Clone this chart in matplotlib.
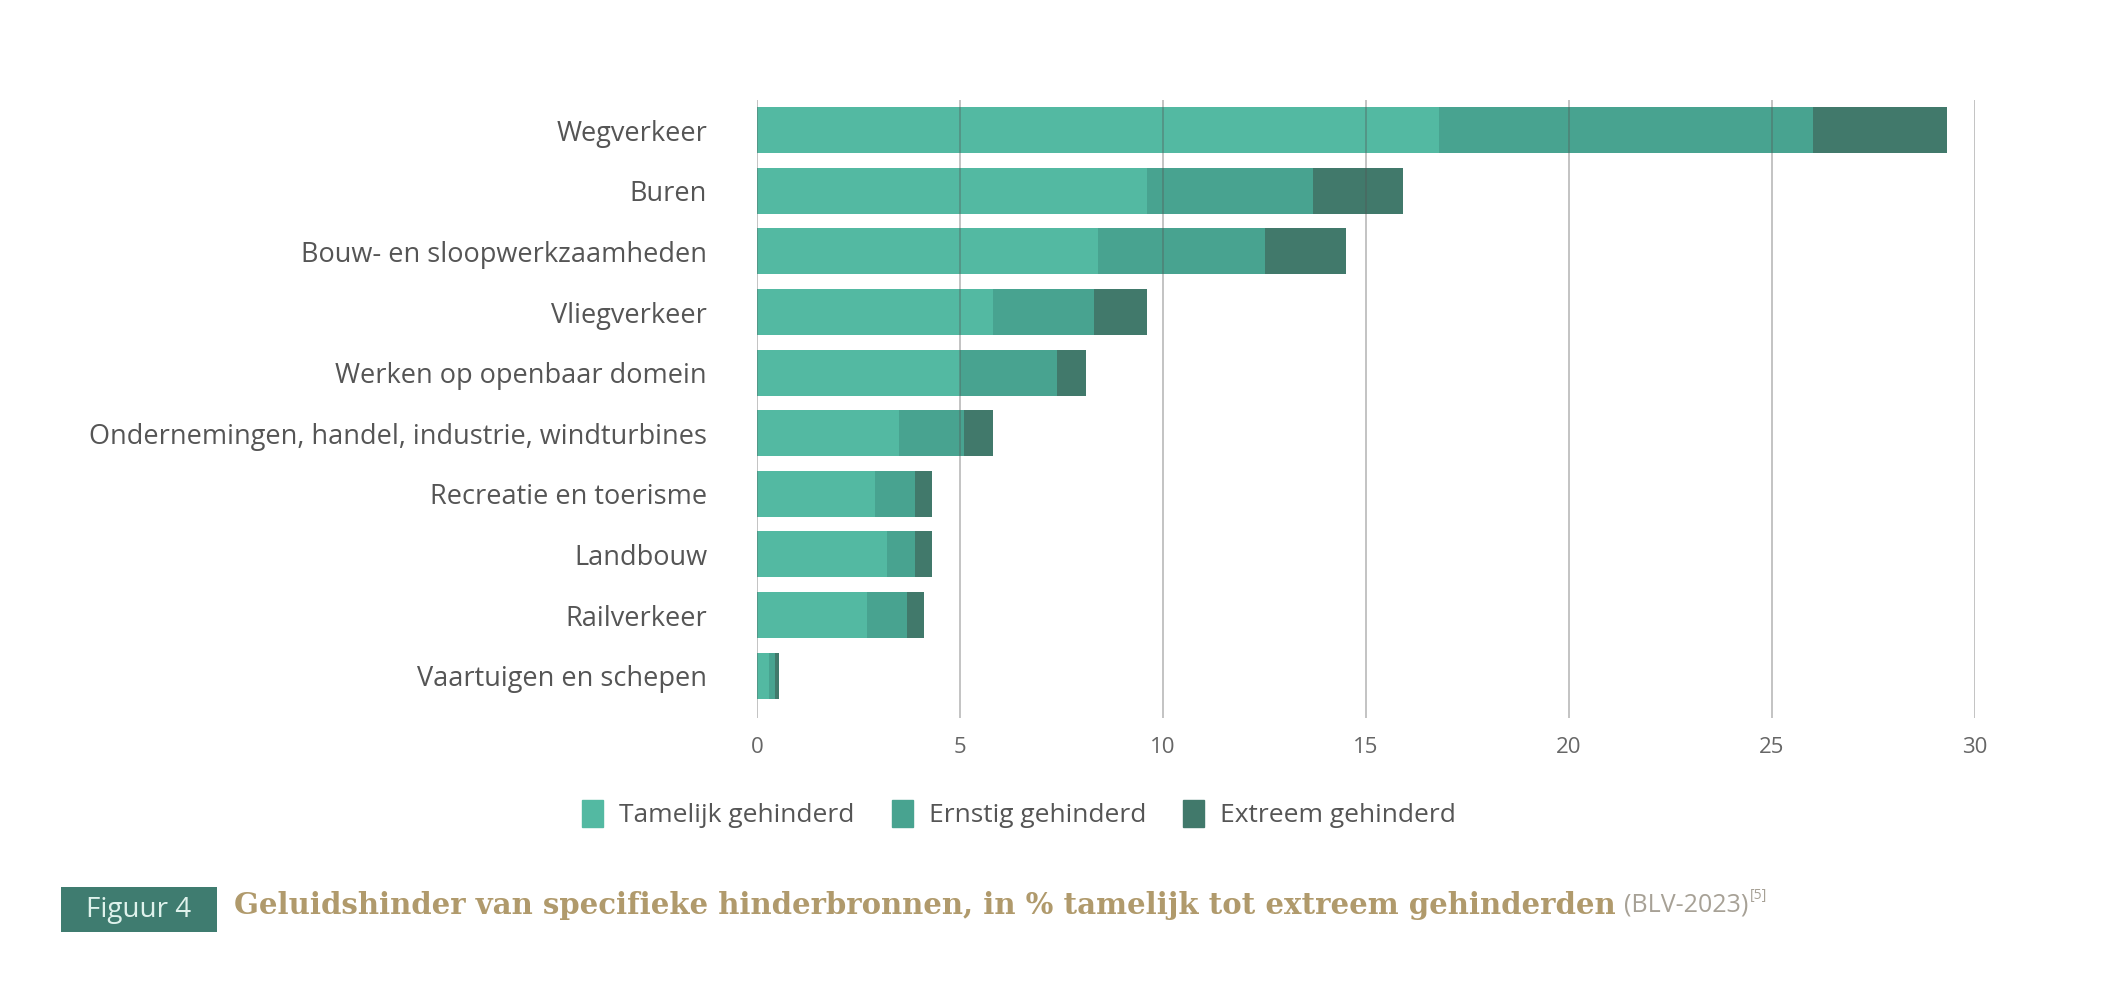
import matplotlib.pyplot as plt
from matplotlib.patches import Patch, Rectangle

categories = ["Wegverkeer", "Buren", "Bouw- en sloopwerkzaamheden", "Vliegverkeer",
              "Werken op openbaar domein", "Ondernemingen, handel, industrie, windturbines",
              "Recreatie en toerisme", "Landbouw", "Railverkeer", "Vaartuigen en schepen"]
tamelijk = [16.8, 9.6, 8.4, 5.8, 5.0, 3.5, 2.9, 3.2, 2.7, 0.3]
ernstig = [9.2, 4.1, 4.1, 2.5, 2.4, 1.6, 1.0, 0.7, 1.0, 0.15]
extreem = [3.3, 2.2, 2.0, 1.3, 0.7, 0.7, 0.4, 0.4, 0.4, 0.08]
series_names = ["Tamelijk gehinderd", "Ernstig gehinderd", "Extreem gehinderd"]
xticks = [0, 5, 10, 15, 20, 25, 30]

colors = ["#53b9a2", "#48a390", "#41796b"]
label_color = "#555555"

fig = plt.figure(figsize=(21.23, 10), dpi=100)
ax = fig.add_axes([0.3566, 0.282, 0.5737, 0.618])

y = list(range(len(categories)))
left = [0] * len(categories)
for vals, col in zip([tamelijk, ernstig, extreem], colors):
    ax.barh(y, vals, left=left, height=0.76, color=col, zorder=2)
    left = [a + b for a, b in zip(left, vals)]

# vertical grid lines drawn over the bars
for xv in xticks:
    ax.axvline(xv, color="#555555", alpha=0.38, lw=1.3, zorder=3)

ax.set_xlim(0, 30)
ax.set_ylim(9.7, -0.5)
ax.set_yticks(y)
ax.set_yticklabels(categories, fontsize=19.5, color=label_color, family="Open Sans")
ax.set_xticks(xticks)
ax.set_xticklabels([str(v) for v in xticks], fontsize=16, color="#666666", family="Open Sans")
ax.tick_params(axis="both", length=0)
ax.tick_params(axis="y", pad=36)
ax.tick_params(axis="x", pad=14)
for s in ax.spines.values():
    s.set_visible(False)

handles = [Patch(color=c) for c in colors]
fig.legend(handles, series_names, loc="center", bbox_to_anchor=(0.48, 0.186), ncol=3,
           frameon=False, prop={"family": "Open Sans", "size": 19}, labelcolor=label_color,
           handlelength=0.8, handleheight=1.2, handletextpad=0.6, columnspacing=1.4)

# caption
cap_y = 0.095
fig.add_artist(Rectangle((0.0287, 0.068), 0.0735, 0.045, transform=fig.transFigure,
                         fc="#3f7c70", ec="none"))
fig.text(0.0655, 0.0905, "Figuur 4", ha="center", va="center", fontsize=20, color="#dff2ec",
         family="Open Sans")
renderer = fig.canvas.get_renderer()
t1 = fig.text(0.110, cap_y, "Geluidshinder van specifieke hinderbronnen, in % tamelijk tot extreem gehinderden",
              ha="left", va="center", fontsize=21, fontweight="bold", color="#b09a6c",
              family="DejaVu Serif")
bb = t1.get_window_extent(renderer).transformed(fig.transFigure.inverted())
t2 = fig.text(bb.x1 + 0.004, cap_y, "(BLV-2023)", ha="left", va="center", fontsize=18,
              color="#a7a196", family="Open Sans")
bb2 = t2.get_window_extent(renderer).transformed(fig.transFigure.inverted())
fig.text(bb2.x1 + 0.001, cap_y + 0.009, "[5]", ha="left", va="center", fontsize=10,
         color="#a7a196", family="Open Sans")

fig.savefig("out.png", dpi=100, facecolor="white")
